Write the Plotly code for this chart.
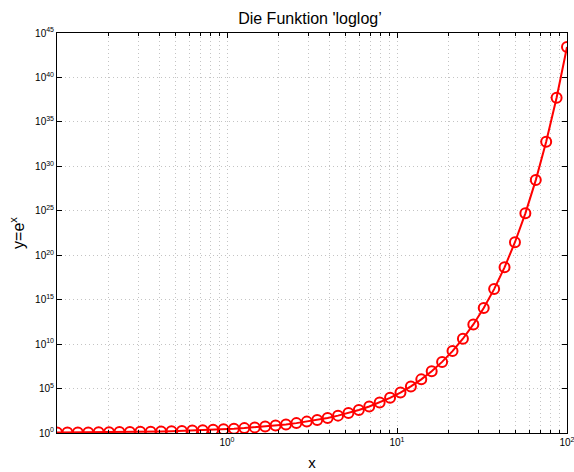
import plotly.graph_objects as go

# Sample points (logarithmically spaced from 0.1 to 100) and y = e^x
x_vals = [0.1, 0.11514, 0.13257, 0.15264, 0.17575, 0.20236, 0.23300, 0.26827,
          0.30888, 0.35565, 0.40949, 0.47149, 0.54287, 0.62506, 0.71969, 0.82864,
          0.95410, 1.09854, 1.26486, 1.45635, 1.67683, 1.93070, 2.22300, 2.55955,
          2.94705, 3.39322, 3.90694, 4.49843, 5.17947, 5.96362, 6.86649, 7.90604,
          9.10298, 10.4811, 12.0679, 13.8950, 15.9986, 18.4207, 21.2095, 24.4205,
          28.1177, 32.3746, 37.2759, 42.9193, 49.4171, 56.8987, 65.5129, 75.4312,
          86.8511, 100.0]
y_vals = [1.105, 1.122, 1.142, 1.165, 1.192, 1.224, 1.262, 1.308,
          1.362, 1.427, 1.506, 1.602, 1.721, 1.868, 2.054, 2.290,
          2.596, 3.000, 3.543, 4.291, 5.349, 6.894, 9.235, 12.93,
          19.05, 29.77, 49.75, 89.87, 177.6, 389.0, 959.6, 2713.0,
          8980.0, 3.56e4, 1.74e5, 1.08e6, 8.87e6, 1.00e8, 1.63e9, 4.03e10,
          1.63e12, 1.15e14, 1.54e16, 4.36e18, 2.89e21, 5.14e24, 2.83e28, 5.75e32,
          5.24e37, 2.69e43]

# Axis ticks
x_major = [1.0, 10.0, 100.0]
x_major_text = ["10<sup>0</sup>", "10<sup>1</sup>", "10<sup>2</sup>"]
x_minor = [float(m) * 10.0 ** e for e in (-1, 0, 1) for m in range(2, 10)]
y_exps = [0, 5, 10, 15, 20, 25, 30, 35, 40, 45]
y_ticks = [10.0 ** e for e in y_exps]
y_text = ["10<sup>%d</sup>" % e for e in y_exps]

font_family = "Liberation Sans, Arial, sans-serif"
grid_color = "#c4c4c4"
grid_dash = "1px,3px"

fig = go.Figure()
fig.add_trace(go.Scatter(
    x=x_vals, y=y_vals, mode="lines+markers",
    line=dict(color="#ff0000", width=2),
    marker=dict(symbol="circle-open", size=10, color="#ff0000",
                line=dict(width=2, color="#ff0000")),
    showlegend=False,
))

axis_common = dict(
    type="log", showline=True, linecolor="black", linewidth=1, mirror="allticks",
    ticks="inside", ticklen=5, tickcolor="black", showgrid=True,
    gridcolor=grid_color, griddash=grid_dash, gridwidth=1, zeroline=False,
    automargin=False, ticklabeloverflow="allow",
    tickfont=dict(family=font_family, size=10, color="black"),
)

fig.update_xaxes(
    **axis_common, range=[-1, 2], tickmode="array", tickvals=x_major, ticktext=x_major_text,
    minor=dict(tickmode="array", tickvals=x_minor, ticks="inside", ticklen=3,
               tickcolor="black", showgrid=True, gridcolor=grid_color,
               griddash=grid_dash, gridwidth=1),
    title=dict(text="x", font=dict(family=font_family, size=15, color="black"), standoff=10),
)
fig.update_yaxes(
    **axis_common, range=[0, 45], tickmode="array", tickvals=y_ticks, ticktext=y_text,
    title=dict(text="y=e<sup>x</sup>", font=dict(family=font_family, size=16, color="black"), standoff=6),
)

fig.update_layout(
    width=574, height=472,
    margin=dict(l=57, r=7, t=33, b=39),
    paper_bgcolor="white", plot_bgcolor="white",
    title=dict(text="Die Funktion 'loglog’", x=0.54, xanchor="center", y=0.962, yanchor="middle",
               font=dict(family=font_family, size=16, color="black")),
)

fig.write_html("out.html")
